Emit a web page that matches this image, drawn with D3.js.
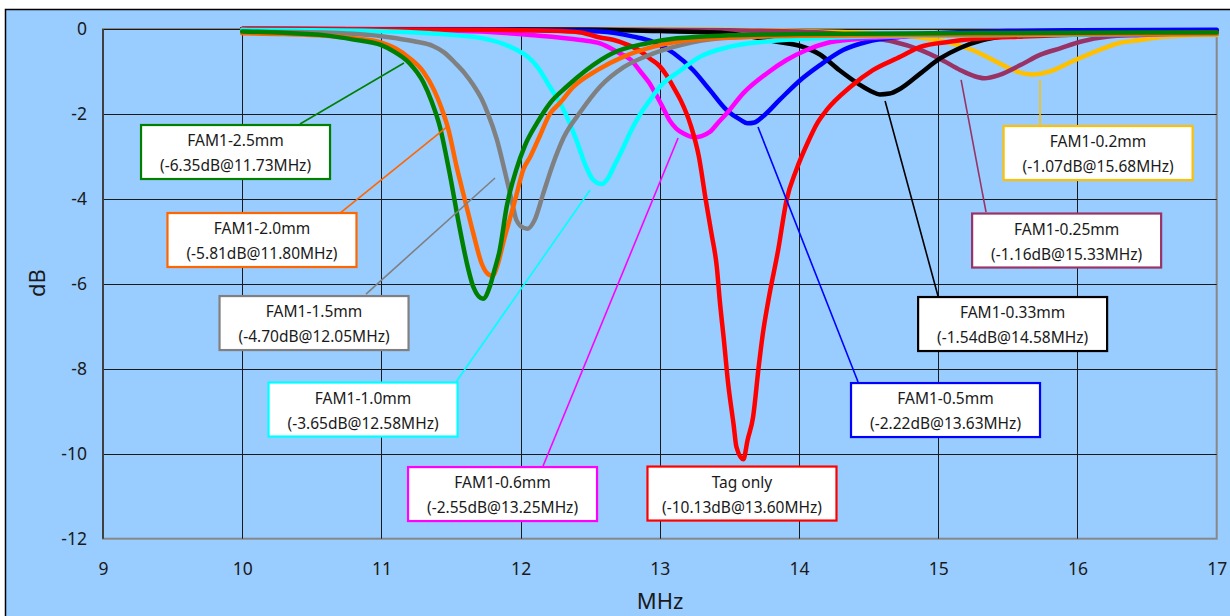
<!DOCTYPE html>
<html>
<head>
<meta charset="utf-8">
<script src="https://cdn.jsdelivr.net/npm/d3@7"></script>
<style>
  html, body { margin: 0; padding: 0; background: #ffffff; }
  svg { display: block; }
  text { font-family: "Noto Sans", "Open Sans", sans-serif; fill: #1a1a1a; }
</style>
</head>
<body>
<svg id="chart" width="1230" height="616"></svg>
<script>
// Frequency axis (MHz) and magnitude axis (dB) ticks
const xTicks = [9, 10, 11, 12, 13, 14, 15, 16, 17];
const yTicks = [0, -2, -4, -6, -8, -10, -12];

// Measured S-parameter sweeps: [frequency MHz, dB]
const tagOnly = [[10,0],[11,-0.01],[11.8,-0.02],[12.2,-0.04],[12.43,-0.08],[12.57,-0.2],[12.67,-0.26],[12.76,-0.36],[12.85,-0.5],[12.93,-0.7],[13.0,-0.88],[13.05,-1.1],[13.1,-1.38],[13.15,-1.68],[13.22,-2.25],[13.28,-3.0],[13.33,-4.03],[13.37,-4.8],[13.41,-5.63],[13.43,-6.38],[13.46,-7.32],[13.49,-8.33],[13.53,-9.32],[13.55,-9.84],[13.6,-10.13],[13.63,-9.68],[13.67,-9.13],[13.71,-7.95],[13.74,-7.17],[13.78,-6.38],[13.85,-5.2],[13.91,-4.03],[13.98,-3.32],[14.06,-2.69],[14.13,-2.22],[14.2,-1.9],[14.37,-1.36],[14.53,-0.97],[14.73,-0.65],[14.87,-0.42],[15.08,-0.3],[15.32,-0.22],[15.6,-0.18],[15.92,-0.14],[16.5,-0.1],[17,-0.08]];
const fam02 = [[10,0],[13,-0.01],[14,-0.05],[14.5,-0.1],[14.87,-0.2],[15.08,-0.32],[15.25,-0.5],[15.4,-0.74],[15.54,-0.97],[15.62,-1.05],[15.68,-1.07],[15.8,-1.0],[15.97,-0.75],[16.16,-0.49],[16.3,-0.33],[16.45,-0.26],[16.6,-0.19],[16.83,-0.15],[17,-0.14]];
const fam025 = [[10,0],[12.5,-0.01],[13.5,-0.03],[14,-0.06],[14.3,-0.12],[14.5,-0.2],[14.68,-0.3],[14.87,-0.49],[15.01,-0.7],[15.16,-0.97],[15.25,-1.1],[15.33,-1.16],[15.44,-1.08],[15.59,-0.85],[15.73,-0.61],[15.88,-0.45],[16.02,-0.3],[16.21,-0.18],[16.45,-0.14],[16.8,-0.1],[17,-0.09]];
const fam033 = [[10,0],[11.5,-0.01],[12.5,-0.02],[13,-0.05],[13.4,-0.08],[13.6,-0.15],[13.84,-0.3],[14.01,-0.4],[14.15,-0.6],[14.29,-0.97],[14.44,-1.32],[14.52,-1.47],[14.58,-1.54],[14.65,-1.52],[14.73,-1.4],[14.87,-1.05],[15.01,-0.7],[15.16,-0.44],[15.32,-0.26],[15.52,-0.16],[15.8,-0.1],[16.2,-0.06],[17,-0.04]];
const fam05 = [[10,0],[11,-0.005],[11.73,-0.01],[12.2,-0.03],[12.57,-0.06],[12.81,-0.18],[12.95,-0.3],[13.1,-0.57],[13.24,-0.97],[13.36,-1.44],[13.48,-1.91],[13.58,-2.14],[13.63,-2.22],[13.68,-2.2],[13.74,-2.06],[13.86,-1.67],[14.01,-1.2],[14.15,-0.85],[14.32,-0.49],[14.49,-0.3],[14.73,-0.18],[14.97,-0.1],[15.5,-0.05],[16,-0.03],[17,-0.02]];
const fam06 = [[10,-0.01],[10.75,-0.01],[11.2,-0.03],[11.71,-0.06],[12.07,-0.14],[12.43,-0.26],[12.57,-0.34],[12.71,-0.57],[12.79,-0.72],[12.86,-1.0],[12.92,-1.25],[12.98,-1.59],[13.03,-1.9],[13.07,-2.15],[13.12,-2.35],[13.17,-2.46],[13.25,-2.55],[13.3,-2.52],[13.36,-2.42],[13.42,-2.2],[13.48,-1.99],[13.6,-1.51],[13.77,-1.04],[13.91,-0.73],[14.05,-0.5],[14.2,-0.33],[14.4,-0.24],[14.73,-0.18],[15.1,-0.15],[16,-0.13],[17,-0.12]];
const fam10 = [[10,-0.02],[10.5,-0.03],[10.87,-0.04],[11.35,-0.1],[11.73,-0.22],[11.97,-0.49],[12.05,-0.65],[12.12,-0.89],[12.21,-1.36],[12.31,-1.91],[12.4,-2.61],[12.47,-3.24],[12.52,-3.55],[12.58,-3.65],[12.63,-3.5],[12.67,-3.24],[12.74,-2.77],[12.8,-2.35],[12.86,-2.0],[12.93,-1.67],[13.0,-1.36],[13.15,-0.97],[13.29,-0.65],[13.5,-0.42],[13.74,-0.3],[14.1,-0.22],[14.6,-0.17],[15.5,-0.14],[16.5,-0.12],[17,-0.12]];
const fam15 = [[10,-0.06],[10.3,-0.07],[10.63,-0.09],[11,-0.17],[11.11,-0.22],[11.25,-0.3],[11.37,-0.4],[11.45,-0.55],[11.53,-0.8],[11.6,-1.05],[11.66,-1.32],[11.72,-1.65],[11.76,-1.95],[11.83,-2.61],[11.89,-3.4],[11.94,-4.1],[11.97,-4.5],[12.02,-4.68],[12.05,-4.7],[12.1,-4.5],[12.16,-3.9],[12.23,-3.2],[12.31,-2.55],[12.43,-1.95],[12.57,-1.36],[12.74,-0.9],[12.95,-0.58],[13.15,-0.38],[13.43,-0.22],[14,-0.15],[15,-0.12],[16,-0.11],[17,-0.1]];
const fam20 = [[10,-0.1],[10.3,-0.12],[10.6,-0.16],[10.8,-0.22],[11,-0.32],[11.1,-0.45],[11.2,-0.68],[11.3,-1.0],[11.38,-1.45],[11.43,-1.85],[11.48,-2.35],[11.54,-3.24],[11.6,-4.03],[11.66,-4.81],[11.72,-5.52],[11.77,-5.78],[11.8,-5.81],[11.83,-5.6],[11.88,-4.97],[11.96,-4.03],[12.02,-3.3],[12.07,-3.0],[12.14,-2.5],[12.21,-2.0],[12.28,-1.75],[12.38,-1.36],[12.55,-0.97],[12.74,-0.65],[12.95,-0.42],[13.12,-0.3],[13.5,-0.2],[14,-0.16],[15,-0.14],[16,-0.12],[17,-0.11]];
const fam25 = [[10,-0.06],[10.3,-0.09],[10.6,-0.15],[10.8,-0.25],[11,-0.38],[11.1,-0.55],[11.2,-0.8],[11.3,-1.25],[11.36,-1.7],[11.42,-2.3],[11.49,-3.4],[11.56,-4.65],[11.62,-5.6],[11.66,-6.07],[11.73,-6.35],[11.78,-6.05],[11.81,-5.7],[11.85,-5.2],[11.9,-4.18],[11.97,-3.3],[12.03,-2.75],[12.12,-2.2],[12.21,-1.75],[12.33,-1.36],[12.47,-0.97],[12.66,-0.57],[12.9,-0.34],[13.12,-0.22],[13.5,-0.15],[14,-0.12],[15,-0.1],[16,-0.09],[17,-0.08]];

// Series in drawing order, with their callout text and placement (data units)
const series = [
  { name: "FAM1-0.2mm",  data: fam02,   color: "#FFC000", note: "(-1.07dB@15.68MHz)",  box: [16.148, -2.92],  lead: [[15.731, -2.284], [15.731, -1.20]] },
  { name: "FAM1-0.25mm", data: fam025,  color: "#993366", note: "(-1.16dB@15.33MHz)",  box: [15.922, -4.98],  lead: [[15.343, -4.309], [15.164, -1.20]] },
  { name: "FAM1-0.33mm", data: fam033,  color: "#000000", note: "(-1.54dB@14.58MHz)",  box: [15.534, -6.946], lead: [[14.998, -6.287], [14.618, -1.695]] },
  { name: "FAM1-0.5mm",  data: fam05,   color: "#0000FF", note: "(-2.22dB@13.63MHz)",  box: [15.052, -8.971], lead: [[14.424, -8.312], [13.705, -2.307]] },
  { name: "FAM1-0.6mm",  data: fam06,   color: "#FF00FF", note: "(-2.55dB@13.25MHz)",  box: [11.870, -10.949], lead: [[12.161, -10.29], [13.131, -2.567]] },
  { name: "Tag only",    data: tagOnly, color: "#FF0000", note: "(-10.13dB@13.60MHz)", box: [13.590, -10.937], lead: null },
  { name: "FAM1-1.0mm",  data: fam10,   color: "#00FFFF", note: "(-3.65dB@12.58MHz)",  box: [10.868, -8.959], lead: [[11.536, -8.312], [12.499, -3.791]] },
  { name: "FAM1-1.5mm",  data: fam15,   color: "#808080", note: "(-4.70dB@12.05MHz)",  box: [10.516, -6.923], lead: [[10.889, -6.24], [11.816, -3.508]] },
  { name: "FAM1-2.0mm",  data: fam20,   color: "#FF6600", note: "(-5.81dB@11.80MHz)",  box: [10.142, -4.968], lead: [[10.703, -4.332], [11.471, -2.307]] },
  { name: "FAM1-2.5mm",  data: fam25,   color: "#008000", note: "(-6.35dB@11.73MHz)",  box: [9.952, -2.896],  lead: [[10.415, -2.237], [11.162, -0.80]] }
];

const svg = d3.select("#chart");
const W = 1230, H = 616;
const plot = { left: 103, right: 1216.7, top: 29, bottom: 538.7 };

const x = d3.scaleLinear().domain([9, 17]).range([plot.left, plot.right]);
const y = d3.scaleLinear().domain([0, -12]).range([plot.top, plot.bottom]);

// Chart background with its frame
svg.append("rect").attr("width", W).attr("height", H).attr("fill", "#ffffff");
svg.append("rect")
  .attr("x", 5.5).attr("y", 9.5).attr("width", W + 10).attr("height", H + 10)
  .attr("fill", "#99CCFF").attr("stroke", "#000").attr("stroke-width", 1.5);

// Plot-area border
svg.append("rect")
  .attr("x", plot.left).attr("y", plot.top)
  .attr("width", plot.right - plot.left).attr("height", plot.bottom - plot.top)
  .attr("fill", "none").attr("stroke", "#888").attr("stroke-width", 2);

// Gridlines
const grid = svg.append("g");
grid.selectAll("line.v").data(xTicks.filter(t => t > 9 && t < 17)).join("line")
  .attr("x1", d => Math.round(x(d)) + 0.5).attr("x2", d => Math.round(x(d)) + 0.5)
  .attr("y1", plot.top).attr("y2", plot.bottom)
  .attr("stroke", "#1a1a1a").attr("stroke-width", 1);
grid.selectAll("line.h").data(yTicks.filter(t => t > -12)).join("line")
  .attr("x1", plot.left).attr("x2", plot.right)
  .attr("y1", d => Math.round(y(d)) + 0.5).attr("y2", d => Math.round(y(d)) + 0.5)
  .attr("stroke", "#1a1a1a").attr("stroke-width", 1);

// Value axis line
svg.append("line")
  .attr("x1", plot.left).attr("x2", plot.left)
  .attr("y1", plot.top).attr("y2", plot.bottom)
  .attr("stroke", "#404040").attr("stroke-width", 2);

// Axes (plain hyphen-minus for negative labels)
const yAxis = d3.axisLeft(y).tickValues(yTicks).tickSize(0).tickPadding(16).tickFormat(d => String(d));
const xAxis = d3.axisBottom(x).tickValues(xTicks).tickSize(0).tickPadding(24).tickFormat(d => String(d));
const gy = svg.append("g").attr("transform", `translate(${plot.left},0)`).call(yAxis);
const gx = svg.append("g").attr("transform", `translate(0,${plot.bottom})`).call(xAxis);
[gx, gy].forEach(g => {
  g.select(".domain").remove();
  g.selectAll("text").style("font-size", "17.5px").style("font-family", "'Noto Sans', sans-serif").attr("fill", "#1a1a1a");
});

// Axis titles
svg.append("text").attr("x", 660).attr("y", 609).attr("text-anchor", "middle")
  .style("font-size", "22px").text("MHz");
svg.append("text").attr("transform", "translate(45,283) rotate(-90)").attr("text-anchor", "middle")
  .style("font-size", "22px").text("dB");

// Curves
const line = d3.line().x(d => x(d[0])).y(d => y(d[1])).curve(d3.curveMonotoneX);
svg.append("g").selectAll("path").data(series).join("path")
  .attr("d", d => line(d.data))
  .attr("fill", "none").attr("stroke", d => d.color)
  .attr("stroke-width", 4.5).attr("stroke-linejoin", "round").attr("stroke-linecap", "round");

// Callout leader lines
svg.append("g").selectAll("line").data(series.filter(s => s.lead)).join("line")
  .attr("x1", d => x(d.lead[0][0])).attr("y1", d => y(d.lead[0][1]))
  .attr("x2", d => x(d.lead[1][0])).attr("y2", d => y(d.lead[1][1]))
  .attr("stroke", d => d.color).attr("stroke-width", 1.6);

// Callout boxes
const boxW = 189, boxH = 54;
const callouts = svg.append("g").selectAll("g").data(series).join("g")
  .attr("transform", d => `translate(${x(d.box[0])},${y(d.box[1])})`);
callouts.append("rect")
  .attr("x", -boxW / 2).attr("y", -boxH / 2).attr("width", boxW).attr("height", boxH)
  .attr("fill", "#ffffff").attr("stroke", d => d.color).attr("stroke-width", 2.2);
callouts.append("text").attr("text-anchor", "middle").attr("y", -6)
  .style("font-size", "15.5px").text(d => d.name);
callouts.append("text").attr("text-anchor", "middle").attr("y", 19)
  .style("font-size", "15.5px").text(d => d.note);
</script>
</body>
</html>
